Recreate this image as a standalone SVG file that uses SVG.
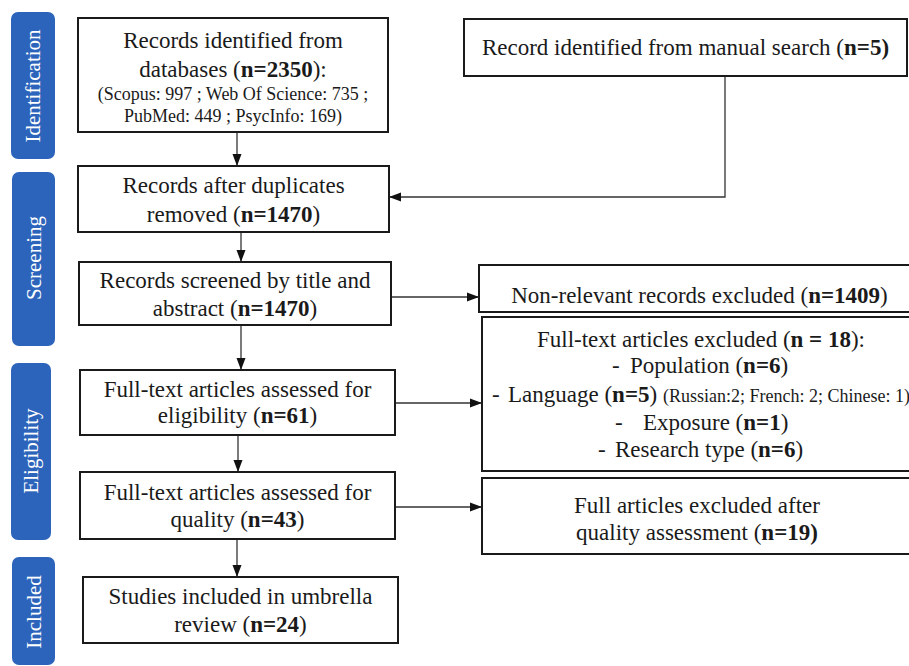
<svg xmlns="http://www.w3.org/2000/svg" width="909" height="666" viewBox="0 0 909 666">
<style>
  .box { fill: #ffffff; stroke: #1a1a1a; stroke-width: 2; }
  .side { fill: #2D64BB; }
  .side-t { fill: #ffffff; font-family: "Liberation Serif", "Times New Roman", serif; font-size: 21px; text-anchor: middle; dominant-baseline: central; }
  .t { font-family: "Liberation Serif", "Times New Roman", serif; font-size: 23px; fill: #1a1a1a; text-anchor: middle; }
  .tl { font-family: "Liberation Serif", "Times New Roman", serif; font-size: 23px; fill: #1a1a1a; }
  .s { font-size: 18px; }
  .b { font-weight: bold; }
  .conn { fill: none; stroke: #333333; stroke-width: 1.3; marker-end: url(#arrow); }
</style>
<defs>
  <marker id="arrow" markerUnits="userSpaceOnUse" markerWidth="12" markerHeight="12" viewBox="0 0 12 12" refX="12" refY="6" orient="auto">
    <path d="M0,1.5 L12,6 L0,10.5 Z" fill="#111111"/>
  </marker>
</defs>
<rect width="909" height="666" fill="#ffffff"/>

<g id="stage-identification">
  <rect class="side" x="11" y="12" width="44" height="147" rx="7"/>
  <text class="side-t" transform="translate(33,86) rotate(-90)">Identification</text>
</g>
<g id="stage-screening">
  <rect class="side" x="12" y="172" width="43" height="174" rx="7"/>
  <text class="side-t" transform="translate(33.5,258) rotate(-90)">Screening</text>
</g>
<g id="stage-eligibility">
  <rect class="side" x="11" y="363" width="40" height="177" rx="7"/>
  <text class="side-t" transform="translate(31,451) rotate(-90)">Eligibility</text>
</g>
<g id="stage-included">
  <rect class="side" x="12" y="557" width="43" height="108" rx="7"/>
  <text class="side-t" transform="translate(33.5,612) rotate(-90)">Included</text>
</g>

<g id="connectors">
  <path class="conn" d="M237,132 L237,166"/>
  <path class="conn" d="M725,76 L725,197 L389,197"/>
  <path class="conn" d="M241,232 L241,262"/>
  <path class="conn" d="M391,297 L479,297"/>
  <path class="conn" d="M241,325 L241,370"/>
  <path class="conn" d="M395,403 L482,403"/>
  <path class="conn" d="M238,435 L238,472"/>
  <path class="conn" d="M395,507 L482,507"/>
  <path class="conn" d="M237,539 L237,577"/>
</g>

<g id="databases">
  <rect class="box" x="78" y="18" width="310" height="114"/>
  <text class="t" x="233" y="48">Records identified from</text>
  <text class="t" x="233" y="77">databases (<tspan class="b">n=2350</tspan>):</text>
  <text class="t s" x="233" y="100">(Scopus: 997 ; Web Of Science: 735 ;</text>
  <text class="t s" x="233" y="122">PubMed: 449 ; PsycInfo: 169)</text>
</g>

<g id="manual">
  <rect class="box" x="464" y="19" width="443" height="57"/>
  <text class="t" x="685.5" y="55">Record identified from manual search (<tspan class="b">n=5)</tspan></text>
</g>

<g id="duplicates">
  <rect class="box" x="78" y="166" width="311" height="66"/>
  <text class="t" x="233.5" y="193">Records after duplicates</text>
  <text class="t" x="233.5" y="222">removed (<tspan class="b">n=1470</tspan>)</text>
</g>

<g id="screened">
  <rect class="box" x="79" y="262" width="312" height="63"/>
  <text class="t" x="235" y="288">Records screened by title and</text>
  <text class="t" x="235" y="316">abstract (<tspan class="b">n=1470</tspan>)</text>
</g>

<g id="nonrelevant">
  <rect class="box" x="479" y="265" width="440" height="47"/>
  <text class="t" x="699.5" y="303">Non-relevant records excluded (<tspan class="b">n=1409</tspan>)</text>
</g>

<g id="fulltext-excluded">
  <rect class="box" x="482" y="317" width="440" height="154"/>
  <text class="t" x="701" y="347">Full-text articles excluded (<tspan class="b">n = 18</tspan>):</text>
  <text class="tl" y="373"><tspan x="612">-</tspan><tspan x="630">Population (<tspan class="b">n=6</tspan>)</tspan></text>
  <text class="tl" y="402"><tspan x="492">-</tspan><tspan x="508">Language (<tspan class="b">n=5</tspan>)</tspan><tspan class="s" x="663">(Russian:2; French: 2; Chinese: 1)</tspan></text>
  <text class="tl" y="430"><tspan x="615">-</tspan><tspan x="643">Exposure (<tspan class="b">n=1</tspan>)</tspan></text>
  <text class="tl" y="457"><tspan x="598">-</tspan><tspan x="615">Research type (<tspan class="b">n=6</tspan>)</tspan></text>
</g>

<g id="eligibility">
  <rect class="box" x="80" y="370" width="315" height="65"/>
  <text class="t" x="237.5" y="397">Full-text articles assessed for</text>
  <text class="t" x="237.5" y="423">eligibility (<tspan class="b">n=61</tspan>)</text>
</g>

<g id="quality">
  <rect class="box" x="80" y="472" width="315" height="67"/>
  <text class="t" x="237.5" y="500">Full-text articles assessed for</text>
  <text class="t" x="237.5" y="527">quality (<tspan class="b">n=43</tspan>)</text>
</g>

<g id="quality-excluded">
  <rect class="box" x="482" y="478" width="440" height="76"/>
  <text class="t" x="697" y="513">Full articles excluded after</text>
  <text class="t" x="697" y="540">quality assessment (<tspan class="b">n=19)</tspan></text>
</g>

<g id="included">
  <rect class="box" x="83" y="577" width="315" height="66"/>
  <text class="t" x="240.5" y="604">Studies included in umbrella</text>
  <text class="t" x="240.5" y="632">review (<tspan class="b">n=24</tspan>)</text>
</g>
</svg>
